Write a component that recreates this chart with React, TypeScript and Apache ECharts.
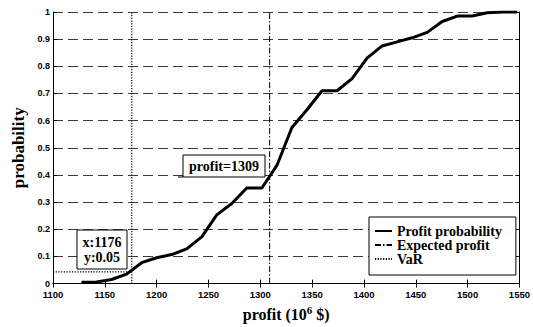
import React, { useEffect, useRef } from "react";
import * as echarts from "echarts";

const profitX = [
  1127.5, 1142, 1156.5, 1171, 1185.5, 1200, 1214.5, 1229, 1243.5, 1258,
  1272.5, 1287, 1301.5, 1316, 1330.5, 1345, 1359.5, 1374, 1388.5, 1403,
  1417.5, 1432, 1446.5, 1461, 1475.5, 1490, 1504.5, 1519, 1533.5, 1548,
];
const probY = [
  0.005, 0.006, 0.015, 0.035, 0.077, 0.095, 0.107, 0.128, 0.172, 0.253,
  0.295, 0.352, 0.352, 0.435, 0.575, 0.64, 0.71, 0.71, 0.755, 0.83,
  0.875, 0.89, 0.905, 0.925, 0.965, 0.985, 0.985, 0.997, 1.0, 1.0,
];
const expectedProfit = 1309;
const varX = 1176;
const varY = 0.043;
const legendNames = ["Profit probability", "Expected profit", "VaR"];
const xMin = 1100;
const xMax = 1550;
const xStep = 50;
const yMin = 0;
const yMax = 1;
const yStep = 0.1;

const SERIF = "'Times New Roman', 'Liberation Serif', serif";
const SANS = "Arial, 'Liberation Sans', sans-serif";

export default function App() {
  const ref = useRef<HTMLDivElement>(null);
  useEffect(() => {
    if (!ref.current) return;
    const chart = echarts.init(ref.current, null, { renderer: "svg" });
    const curve = profitX.map((x, i) => [x, probY[i]]);
    const axisCommon = {
      type: "value" as const,
      axisLine: { show: true, lineStyle: { color: "#000", width: 1 } },
      axisTick: { show: true, inside: true, length: 4, lineStyle: { color: "#000" } },
    };
    const blackItem = { color: "#000" };
    chart.setOption({
      animation: false,
      backgroundColor: "#fff",
      color: ["#000"],
      grid: { left: 53, right: 12, top: 12, bottom: 41, containLabel: false },
      xAxis: [
        {
          ...axisCommon,
          min: xMin,
          max: xMax,
          interval: xStep,
          position: "bottom",
          axisLabel: {
            fontFamily: SANS,
            fontWeight: "bold",
            fontSize: 9.5,
            color: "#000",
            margin: 6,
            formatter: (v: number) => String(v),
          },
          splitLine: { show: false },
          name: "{a|profit (10}{s|6}{a| $)}",
          nameLocation: "middle",
          nameGap: 18,
          nameTextStyle: {
            rich: {
              a: { fontFamily: SERIF, fontWeight: "bold", fontSize: 16, color: "#000" },
              s: {
                fontFamily: SERIF,
                fontWeight: "bold",
                fontSize: 11,
                color: "#000",
                verticalAlign: "top",
                padding: [0, 0, 8, 0],
              },
            },
          },
        },
        {
          ...axisCommon,
          min: xMin,
          max: xMax,
          interval: xStep,
          position: "top",
          axisLabel: { show: false },
          splitLine: { show: false },
        },
      ],
      yAxis: [
        {
          ...axisCommon,
          min: yMin,
          max: yMax,
          interval: yStep,
          position: "left",
          axisLabel: {
            fontFamily: SANS,
            fontWeight: "bold",
            fontSize: 9,
            color: "#000",
            margin: 3,
            formatter: (v: number) => String(+v.toFixed(1)),
          },
          splitLine: {
            show: true,
            lineStyle: { color: "#3a3a3a", width: 1, type: [10, 5] },
          },
          name: "probability",
          nameLocation: "middle",
          nameGap: 19,
          nameTextStyle: { fontFamily: SERIF, fontWeight: "bold", fontSize: 17, color: "#000" },
        },
        {
          ...axisCommon,
          min: yMin,
          max: yMax,
          interval: yStep,
          position: "right",
          axisLabel: { show: false },
          splitLine: { show: false },
        },
      ],
      legend: {
        data: legendNames,
        orient: "vertical",
        left: 369,
        top: 217,
        padding: [7, 14, 9, 5],
        itemGap: 0,
        itemWidth: 17,
        itemHeight: 10,
        backgroundColor: "#fff",
        borderColor: "#000",
        borderWidth: 1,
        borderRadius: 0,
        itemStyle: { opacity: 0 },
        textStyle: {
          fontFamily: SERIF,
          fontWeight: "bold",
          fontSize: 14,
          color: "#000",
          lineHeight: 14,
        },
      },
      series: [
        {
          name: legendNames[0],
          type: "line",
          data: curve,
          symbol: "none",
          itemStyle: blackItem,
          lineStyle: { color: "#000", width: 3 },
          z: 3,
        },
        {
          name: legendNames[1],
          type: "line",
          data: [
            [expectedProfit, yMin],
            [expectedProfit, yMax],
          ],
          symbol: "none",
          itemStyle: blackItem,
          lineStyle: { color: "#000", width: 1, type: [6, 2, 1.5, 2] },
          z: 2,
        },
        {
          name: legendNames[2],
          type: "line",
          data: [
            [varX, yMin],
            [varX, yMax],
          ],
          symbol: "none",
          itemStyle: blackItem,
          lineStyle: { color: "#000", width: 1.2, type: [1.2, 1.5] },
          z: 2,
        },
        {
          name: legendNames[2],
          type: "line",
          data: [
            [xMin, varY],
            [varX, varY],
          ],
          symbol: "none",
          itemStyle: blackItem,
          lineStyle: { color: "#000", width: 1.2, type: [1.2, 1.5] },
          z: 2,
        },
      ],
      graphic: [
        {
          type: "line",
          z: 100,
          shape: { x1: 178, y1: 177, x2: 183, y2: 177 },
          style: { stroke: "#000", lineWidth: 1 },
        },
        {
          type: "rect",
          z: 100,
          shape: { x: 183, y: 155, width: 82, height: 22 },
          style: { fill: "#fff", stroke: "#000", lineWidth: 1 },
        },
        {
          type: "text",
          z: 101,
          x: 224,
          y: 166,
          style: {
            text: "profit=" + expectedProfit,
            fontFamily: SERIF,
            fontWeight: "bold",
            fontSize: 14,
            fill: "#000",
            textAlign: "center",
            textVerticalAlign: "middle",
          },
        },
        {
          type: "rect",
          z: 100,
          shape: { x: 77, y: 230, width: 50, height: 39 },
          style: { fill: "#fff", stroke: "#000", lineWidth: 1 },
        },
        {
          type: "text",
          z: 101,
          x: 102,
          y: 249.5,
          style: {
            text: "x:" + varX + "\ny:0.05",
            fontFamily: SERIF,
            fontWeight: "bold",
            fontSize: 14,
            lineHeight: 15,
            fill: "#000",
            textAlign: "center",
            textVerticalAlign: "middle",
          },
        },
      ],
    });
    return () => chart.dispose();
  }, []);
  return (
    <div
      ref={ref}
      style={{ position: "fixed", left: 0, top: 0, width: 533, height: 327, background: "#fff" }}
    />
  );
}
